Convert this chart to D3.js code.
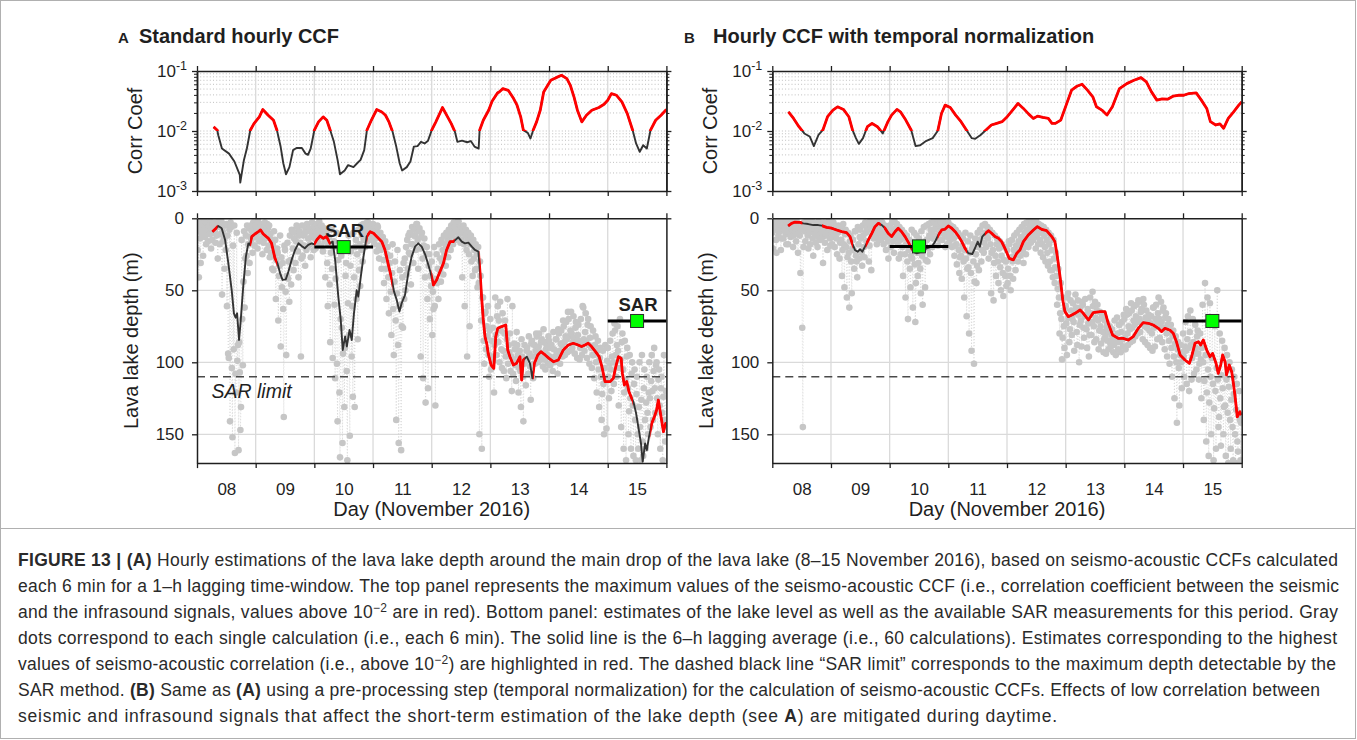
<!DOCTYPE html>
<html>
<head>
<meta charset="utf-8">
<script src="https://cdn.jsdelivr.net/npm/d3@7"></script>
<style>
  body { margin: 0; background: #fff; }
  svg { display: block; font-family: "Liberation Sans", Arial, Helvetica, sans-serif; }
</style>
</head>
<body>
<svg id="fig" width="1357" height="740"></svg>
<script>
// ---------------- data ----------------
// hours are counted from 8 November 2016, 00:00
const dayLabels = ["08", "09", "10", "11", "12", "13", "14", "15"];
const logTickValues = [1e-3, 1e-2, 1e-1];
const depthTickValues = [0, 50, 100, 150];
const ccfThreshold = 1e-2;
const sarLimit = 110;

// maximum seismo-acoustic CCF, standard hourly CCF  [hour, CCF]
const ccfA = [[6.8,0.0117],[8.3,0.0103],[8.7,0.0085],[10.2,0.0051],[13.1,0.0042],[15.3,0.0031],[17.5,0.00185],[17.7,0.00138],[19.2,0.0033],[20.4,0.0051],[21.8,0.0103],[23.3,0.0133],[25.5,0.0172],[26.9,0.0228],[29.1,0.0183],[31.3,0.0151],[32.7,0.0103],[34.2,0.0055],[35.3,0.0029],[36.4,0.0019],[37.8,0.0025],[39.3,0.0048],[40.7,0.0052],[42.9,0.0052],[44.4,0.0042],[45.4,0.0040],[46.5,0.0051],[48.0,0.0103],[49.7,0.0142],[51.6,0.0172],[53.1,0.0151],[54.5,0.0103],[56.0,0.0066],[57.5,0.0033],[58.5,0.0019],[60.4,0.0022],[61.8,0.0027],[64.0,0.0025],[65.5,0.0029],[66.9,0.0033],[68.4,0.0048],[69.5,0.0103],[71.3,0.0151],[73.5,0.0228],[75.6,0.0208],[77.1,0.0183],[78.5,0.0142],[80.0,0.0097],[81.5,0.0055],[82.9,0.0029],[83.9,0.0022],[85.8,0.0025],[87.3,0.0031],[88.7,0.0055],[90.2,0.0056],[91.6,0.0066],[93.1,0.0062],[94.5,0.0069],[96.0,0.0103],[97.7,0.0142],[100.4,0.0246],[102.5,0.0172],[104.0,0.0133],[105.5,0.0097],[106.5,0.0066],[108.4,0.0069],[110.5,0.0065],[112.0,0.0068],[113.5,0.0055],[115.2,0.0051],[115.6,0.0103],[117.1,0.0151],[119.3,0.0222],[120.7,0.0313],[122.9,0.0431],[123.6,0.0448],[125.1,0.0508],[127.3,0.0477],[129.5,0.0347],[130.9,0.0269],[132.4,0.0172],[133.5,0.0103],[135.3,0.0093],[136.4,0.0075],[137.5,0.0103],[138.9,0.0142],[140.4,0.0222],[141.8,0.0448],[144.7,0.070],[146.9,0.0775],[149.1,0.0848],[151.3,0.0746],[152.7,0.0578],[154.2,0.037],[155.6,0.0222],[157.4,0.0142],[159.3,0.0183],[161.5,0.0222],[164.4,0.0246],[166.5,0.0279],[168.0,0.0325],[169.5,0.042],[171.6,0.0394],[173.8,0.0305],[176.0,0.0195],[178.2,0.0103],[179.6,0.0062],[181.1,0.0045],[182.5,0.0058],[184.0,0.0051],[185.5,0.0103],[187.6,0.0151],[189.8,0.0183],[192.0,0.0228]];

// maximum seismo-acoustic CCF, hourly CCF with temporal normalization  [hour, CCF]
const ccfB = [[6.6,0.0209],[8.7,0.0162],[10.9,0.0118],[13.1,0.0091],[15.3,0.0081],[17.0,0.0056],[18.9,0.0086],[20.7,0.0104],[22.6,0.0173],[24.8,0.0223],[26.7,0.0253],[29.1,0.0229],[31.3,0.0173],[32.8,0.0104],[34.2,0.0076],[35.4,0.0061],[37.1,0.0076],[38.9,0.0118],[40.8,0.0134],[43.0,0.0118],[45.2,0.0091],[47.3,0.0143],[48.8,0.0184],[51.0,0.0229],[52.4,0.0209],[54.6,0.0152],[56.8,0.0104],[58.6,0.0056],[60.5,0.0058],[62.6,0.0067],[65.6,0.0076],[67.7,0.0101],[69.2,0.0196],[70.7,0.0270],[72.8,0.0247],[75.0,0.0184],[77.2,0.0143],[79.4,0.0104],[81.6,0.0076],[83.0,0.0074],[85.2,0.0086],[87.4,0.0104],[89.6,0.0126],[91.8,0.0134],[94.0,0.0143],[96.1,0.0173],[98.3,0.0223],[100.5,0.0288],[102.7,0.0238],[104.9,0.0191],[106.8,0.0162],[108.5,0.0177],[110.7,0.0168],[112.9,0.0162],[114.4,0.0134],[115.8,0.0134],[118.0,0.0152],[120.2,0.0270],[122.4,0.0479],[124.6,0.0557],[126.7,0.0601],[128.9,0.0479],[131.1,0.0371],[132.6,0.0253],[134.8,0.0223],[136.9,0.0184],[139.1,0.0253],[142.0,0.0509],[145.0,0.0616],[147.9,0.070],[150.8,0.0776],[153.0,0.0657],[155.1,0.0449],[157.3,0.0327],[159.5,0.0343],[161.7,0.0339],[163.9,0.0380],[166.1,0.0394],[168.3,0.0394],[170.4,0.0421],[173.4,0.0432],[175.5,0.0327],[177.7,0.0238],[179.2,0.0143],[181.4,0.0126],[183.1,0.0131],[184.6,0.0111],[186.5,0.0162],[188.7,0.0209],[190.8,0.0270],[192.0,0.0306]];

// 6-h lagging average of the lava lake depth (m)  [hour, depth]
const depthA = [[6.3,9.3],[7.8,6.9],[8.7,5.3],[10.1,6.9],[11.5,15],[12.8,31],[14.2,50],[15.1,66],[15.8,69],[16.4,66],[17.2,84.5],[17.9,70.6],[18.9,47.5],[20.0,26.6],[21.0,17.4],[21.6,18.5],[22.4,12.7],[23.7,10.9],[25.1,9.3],[26.0,8.1],[27.1,10.9],[29.2,13.9],[30.5,17.4],[31.9,27.8],[32.9,31.2],[34.0,38.2],[35.0,42.8],[36.3,42.4],[37.4,37],[38.7,28.9],[40.1,22],[41.5,17.4],[42.8,19.2],[44.1,20.8],[45.5,18.5],[46.9,17.4],[47.9,18.1],[49.0,15],[50.3,12.3],[51.7,13.9],[53.0,12.7],[54.4,17.4],[55.5,16.2],[56.5,28.9],[57.8,54.4],[58.8,70.6],[59.6,91.5],[60.6,82],[61.3,89],[62.4,77.5],[63.3,84.5],[64.2,66],[65.3,50],[66.0,54.4],[67.0,40.5],[68.1,26.6],[69.4,12.7],[70.8,9.3],[72.2,10.4],[73.5,12.7],[75.6,16.2],[76.9,22],[78.3,32.4],[79.6,41.7],[80.6,50.9],[81.7,56.7],[82.8,64.8],[83.7,59],[85.1,53.2],[86.5,37],[87.8,26.6],[89.2,19.7],[90.5,17.4],[91.9,19.7],[93.3,25],[94.4,31],[95.6,38],[96.7,46.3],[98.0,42.8],[99.4,37],[100.8,31.2],[102.1,22],[103.5,16.2],[104.9,16.2],[106.9,13.2],[108.3,16.2],[109.6,17.4],[111.0,16.9],[112.4,19.7],[113.7,22],[115.1,23.1],[115.8,38.2],[116.4,54.4],[117.1,70.6],[117.8,82.2],[118.5,86.8],[119.1,93.8],[120.3,101.9],[121.4,104.2],[122.2,82.2],[123.0,76.4],[124.6,75.2],[126.3,74.1],[127.1,91.5],[128.0,96.1],[129.4,101.9],[130.7,100.7],[132.1,96.1],[132.8,112.3],[133.5,98.4],[134.9,96.1],[136.2,100.7],[137.2,111.1],[138.0,100.7],[139.4,94.9],[140.7,92.6],[142.4,94.9],[144.0,97.3],[145.8,99.6],[147.8,98.4],[149.8,91.5],[151.9,88],[153.9,86.8],[155.9,88],[157.3,89.1],[158.7,88],[160.0,86.8],[161.4,89.1],[163.0,92.6],[164.5,96.1],[165.6,103],[166.9,113.4],[169.0,113.4],[170.3,111.1],[171.3,103],[172.4,96.1],[173.5,97.3],[174.0,107.7],[174.8,115.8],[175.8,113.4],[176.7,120.4],[177.8,125],[178.5,127.3],[179.6,135.4],[180.5,144.7],[181.6,156.3],[182.3,169],[183.3,156.3],[184.0,160.9],[184.9,151.6],[186.0,142.4],[187.1,137.8],[188.0,133.1],[188.7,126.2],[189.8,137.8],[190.8,148.2],[191.7,142.4],[192.0,144.7]];

const depthB = [[6.5,5.3],[7.9,3.5],[9.3,2.6],[11.3,2.8],[12.7,3.5],[14.7,4],[16.8,4.7],[18.8,4.7],[20.2,5.1],[22.2,6.3],[24.3,6.9],[26.3,8.1],[28.4,9.3],[30.4,10],[31.8,12.7],[32.7,17.4],[33.8,22],[34.9,23.2],[35.9,21.5],[36.8,23.2],[37.9,19.7],[39.3,15],[40.7,10.4],[42.0,5.8],[43.4,3.5],[44.7,4.6],[46.1,6.9],[47.4,10.4],[48.8,12.7],[50.2,9.3],[51.5,6.9],[52.9,9.3],[54.3,12.7],[55.9,17.4],[57.7,23.2],[59.1,24.3],[61.1,23.2],[63.2,20.8],[65.2,19.7],[66.6,16.2],[67.9,11.6],[69.3,8.1],[70.6,7.6],[72.0,5.3],[73.4,6.9],[74.8,9.3],[76.1,12.3],[77.5,16.2],[78.8,20.8],[80.2,24.3],[81.8,24.8],[82.9,20.8],[84.0,16.2],[84.9,19.7],[85.9,12.7],[87.2,10.4],[88.4,8.6],[89.7,10.4],[91.1,12.7],[92.5,13.9],[93.8,16.2],[95.2,21],[96.9,27.8],[98.6,28.9],[100.0,24.3],[101.3,22],[102.7,16.2],[104.7,11.6],[106.8,8.1],[108.4,5.8],[110.2,7.7],[112.2,8.6],[114.3,12.7],[115.6,16.2],[116.6,26.6],[117.7,40.5],[118.8,56.7],[119.7,64.8],[121.1,68.3],[122.5,67.2],[123.8,66],[125.9,63.7],[127.2,66],[129.3,70.6],[131.3,65.5],[134.1,64.8],[136.1,64.8],[137.4,72.9],[139.2,81],[141.5,83.4],[143.5,83.4],[145.6,84.5],[147.6,82.2],[149.7,76.4],[151.7,72.5],[153.8,72.9],[155.8,74.1],[157.9,76.4],[159.2,78.7],[160.6,76.4],[162.6,77.6],[164.0,79.9],[165.3,85.7],[166.8,94.9],[168.8,98.4],[170.6,100.7],[171.5,96.1],[172.9,86.8],[174.3,85.7],[175.2,88],[176.3,84.5],[177.7,91.5],[179.0,96.1],[180.1,93.8],[181.5,100.7],[182.4,107.7],[183.4,101.9],[184.2,94.9],[185.2,99.6],[185.8,108.8],[186.9,101.9],[187.9,106.5],[188.6,114.6],[189.3,123.9],[190.2,137.8],[191.3,134.3],[192.0,136.6]];

// single depth estimates (m), four per hour (every 15 min), one array per day
const dotsA08 = [3,22,9,41, 6,14,31,2, 11,4,26,8, 2,13,7,18, 9,3,16,5, 4,11,2,21, 7,15,4,10, 3,9,17,6, 12,5,28,2, 6,18,3,11, 2,53,9,16, 14,35,5,22, 4,61,12,94, 97,8,141,3, 6,104,152,19, 91,5,163,108, 121,10,99,88, 161,86,107,147, 131,15,70,102, 44,9,62,28, 12,26,5,38, 18,7,31,13, 5,15,9,24, 3,10,19,7];
const dotsA09 = [5,13,8,21, 2,10,16,6, 9,4,14,25, 6,17,11,3, 14,8,22,4, 7,19,5,27, 11,24,15,35, 18,36,9,26, 15,56,29,21, 24,71,40,33, 12,89,27,48, 31,63,138,19, 22,51,95,40, 17,42,30,58, 12,29,46,8, 9,21,36,14, 10,31,16,5, 6,23,41,12, 9,17,96,28, 5,26,12,19, 11,33,8,22, 4,20,14,9, 7,18,27,13, 3,12,9,22];
const dotsA10 = [6,14,21,10, 4,11,17,7, 2,8,13,19, 5,12,23,9, 7,16,41,11, 9,31,61,18, 13,46,86,24, 8,35,97,20, 16,60,111,42, 10,101,141,29, 21,121,166,70, 26,76,156,94, 18,131,90,40, 31,106,168,59, 12,81,151,33, 23,96,61,124, 10,41,131,20, 15,56,25,84, 8,36,18,47, 5,22,12,30, 4,15,9,20, 6,12,3,16, 3,9,14,7, 5,11,7,15];
const dotsA11 = [4,10,18,8, 8,14,23,5, 6,19,28,12, 10,22,35,15, 13,29,45,20, 16,35,56,25, 20,41,66,31, 26,51,81,38, 18,63,95,44, 30,71,140,52, 22,88,156,61, 36,60,161,75, 41,76,31,56, 28,50,20,39, 15,35,12,24, 10,25,46,18, 6,18,31,12, 8,12,22,4, 4,15,35,9, 7,21,96,13, 10,28,111,19, 14,41,128,25, 20,56,118,33, 25,70,40,47];
const dotsA12 = [30,81,51,63, 20,61,130,42, 25,45,35,56, 18,36,28,44, 15,30,22,39, 12,25,18,33, 10,20,14,27, 8,16,12,22, 5,12,9,18, 3,10,6,15, 4,8,14,2, 2,11,7,17, 6,15,41,10, 5,18,61,12, 8,22,96,15, 10,25,75,18, 12,30,18,40, 15,28,22,36, 18,35,25,48, 20,45,150,30, 40,71,160,55, 55,85,101,66, 65,91,75,82, 61,95,110,78];
const dotsA13 = [70,105,85,96, 76,99,121,88, 55,81,95,68, 61,86,71,100, 58,78,91,104, 66,92,106,80, 71,96,111,84, 56,101,88,93, 80,106,96,120, 61,108,98,87, 91,102,113,79, 88,95,121,104, 92,106,131,84, 96,110,141,101, 88,100,116,92, 90,98,108,82, 94,103,126,87, 85,96,111,101, 88,101,92,80, 82,94,100,89, 80,93,98,86, 84,96,103,77, 86,98,105,91, 88,95,101,82];
const dotsA14 = [85,96,102,90, 88,98,106,79, 91,100,96,84, 84,94,108,77, 80,92,101,87, 78,88,96,71, 75,86,95,82, 72,84,93,65, 70,82,92,78, 65,80,90,86, 68,83,94,76, 72,86,97,81, 74,85,98,90, 70,88,95,61, 62,84,92,79, 66,86,97,74, 70,88,101,83, 75,90,104,95, 78,95,111,88, 82,100,121,92, 85,105,131,97, 90,110,140,122, 92,115,150,104, 88,112,146,99];
const dotsA15 = [90,110,125,101, 85,105,120,96, 80,100,115,73, 78,95,110,88, 75,92,130,104, 70,98,145,86, 80,105,160,121, 85,112,168,96, 90,118,150,134, 95,125,160,108, 100,130,165,115, 105,140,168,122, 110,150,160,131, 100,145,168,126, 95,155,165,118, 105,140,160,128, 110,135,150,121, 100,125,145,113, 95,120,140,106, 90,118,135,102, 100,125,150,112, 105,130,160,118, 110,135,168,124, 95,140,155,120];

const dotsB08 = [10,21,4,7, 3,8,15,24, 2,6,12,9, 4,9,22,14, 1,5,14,8, 3,7,11,18, 2,9,18,5, 4,6,13,10, 1,8,20,12, 3,5,10,16, 2,7,24,11, 4,12,38,8, 5,76,145,20, 3,9,16,6, 2,6,12,21, 4,10,18,7, 1,7,14,26, 3,8,11,17, 5,9,20,13, 2,6,15,10, 4,10,13,31, 3,8,17,12, 5,11,22,7, 2,9,14,19];
const dotsB09 = [4,10,18,13, 3,12,20,7, 6,14,25,10, 5,9,28,17, 7,15,40,22, 4,18,48,11, 8,20,55,27, 10,24,62,16, 12,30,52,21, 15,22,35,9, 9,26,30,41, 6,18,28,13, 8,14,24,33, 5,12,20,27, 3,10,16,8, 4,8,30,19, 2,6,36,12, 3,9,14,5, 1,5,12,18, 2,7,10,15, 4,8,15,11, 3,11,18,6, 5,13,22,9, 6,16,28,11];
const dotsB10 = [5,12,20,9, 3,9,16,24, 2,7,14,11, 4,10,18,28, 6,15,25,11, 8,20,40,14, 10,25,55,18, 12,30,70,22, 15,35,48,26, 8,28,62,19, 10,32,72,45, 12,24,40,31, 14,20,35,52, 9,26,60,17, 6,18,48,29, 5,15,30,21, 4,12,25,8, 3,10,20,14, 2,8,14,5, 4,6,12,19, 1,5,10,15, 3,7,15,10, 2,6,12,20, 4,9,18,13];
const dotsB11 = [3,8,16,11, 5,10,20,14, 6,14,26,19, 8,18,32,12, 10,22,38,27, 12,26,42,19, 14,30,55,22, 10,28,68,35, 16,34,80,24, 12,38,92,21, 18,30,101,44, 14,25,45,33, 10,20,36,15, 8,16,30,22, 5,12,24,17, 4,10,20,13, 6,14,28,9, 8,18,52,24, 10,22,57,31, 12,26,40,18, 14,30,45,21, 16,34,50,26, 18,38,54,29, 20,40,30,47];
const dotsB12 = [22,45,35,16, 18,40,50,27, 15,30,42,22, 12,26,36,19, 10,22,30,16, 8,18,26,13, 6,14,22,31, 4,10,18,25, 3,8,14,20, 2,6,12,17, 1,5,10,15, 3,7,13,21, 2,6,11,18, 4,9,15,24, 5,10,18,27, 6,12,20,30, 8,15,24,33, 10,18,30,36, 12,22,36,41, 15,28,45,34, 24,40,60,49, 35,55,80,66, 45,70,98,83, 55,75,90,63];
const dotsB13 = [61,73,95,55, 52,69,86,77, 57,64,81,70, 59,72,92,66, 53,62,79,88, 57,67,100,74, 62,71,89,58, 60,76,83,68, 56,67,77,90, 63,73,96,81, 55,66,81,72, 51,61,75,86, 58,69,84,64, 60,71,91,78, 65,75,87,69, 67,79,93,84, 71,82,94,76, 73,85,91,79, 75,87,89,81, 77,84,93,88, 71,82,95,86, 69,80,91,74, 74,86,93,79, 72,84,89,67];
const dotsB14 = [70,83,91,63, 67,80,88,75, 66,77,86,59, 64,76,85,71, 61,74,82,68, 60,72,80,57, 58,70,79,65, 63,73,84,56, 60,75,86,69, 64,76,88,71, 67,78,90,73, 68,80,92,62, 62,76,89,70, 60,74,84,66, 55,70,83,76, 58,72,86,64, 62,76,91,69, 66,80,96,74, 70,85,101,79, 74,90,110,82, 78,96,125,87, 82,100,142,91, 86,104,130,95, 88,100,118,93];
const dotsB15 = [80,96,110,89, 72,92,115,84, 68,90,120,79, 64,88,112,97, 70,86,108,94, 74,90,105,82, 78,94,112,101, 80,98,125,90, 60,100,140,113, 45,95,155,121, 55,105,165,128, 59,110,150,97, 70,115,168,132, 75,120,160,104, 50,112,145,138, 80,125,158,109, 85,118,150,131, 90,130,165,112, 95,135,170,117, 100,140,160,126, 105,145,168,122, 110,150,170,133, 115,155,162,137, 120,140,168,142];

// SAR measurements: [start hour, end hour, marker hour, depth (m)]
const sarA = [[48, 72, 60, 20], [168, 192, 180, 71.3]];
const sarB = [[48, 72, 60, 19.5], [168, 192, 180, 71.3]];

// ---------------- drawing ----------------
const svg = d3.select("#fig");
const INK = "#1f1f1f";
const RED = "#ff0000";
const GRID = "#dadada";
const DOT = "#c6c6c6";

// frame of the figure and the caption box
svg.append("rect").attr("x", 0.5).attr("y", 0.5).attr("width", 1355).attr("height", 738)
  .attr("fill", "none").attr("stroke", "#b0b0b0");
svg.append("line").attr("x1", 0).attr("x2", 1356).attr("y1", 528.5).attr("y2", 528.5)
  .attr("stroke", "#b0b0b0");

// time spans where the CCF is at or above the threshold (crossings taken in log space)
function redSpans(series, thr) {
  const spans = [];
  let start = series[0][1] >= thr ? 0 : null;
  for (let i = 1; i < series.length; i++) {
    const [h0, v0] = series[i - 1], [h1, v1] = series[i];
    const a = v0 >= thr, b = v1 >= thr;
    if (a !== b) {
      const t = (Math.log(thr) - Math.log(v0)) / (Math.log(v1) - Math.log(v0));
      const hc = h0 + t * (h1 - h0);
      if (b) start = hc; else { spans.push([start, hc]); start = null; }
    }
  }
  if (start !== null) spans.push([start, 192]);
  return spans;
}

function styleAxis(sel, width) {
  sel.select(".domain").attr("stroke", INK).attr("stroke-width", 1.5);
  sel.selectAll(".tick line").attr("stroke", INK).attr("stroke-width", width || 1.3);
  sel.selectAll("text").remove();
}

function drawPanel(o) {
  const x = d3.scaleLinear().domain([0, 192]).range([o.left, o.right]);
  const yT = d3.scaleLog().domain([1e-3, 1e-1]).range([191, 71]);
  const yB = d3.scaleLinear().domain([0, 170]).range([218.3, 463.1]);
  const dayTicks = d3.range(0, 193, 24);
  const midTicks = d3.range(12, 192, 24);
  const g = svg.append("g");
  const defs = svg.append("defs");

  // ---------- title ----------
  g.append("text").attr("x", o.letterX).attr("y", 43).attr("font-size", 15)
    .attr("font-weight", "bold").attr("fill", INK).text(o.letter);
  g.append("text").attr("x", o.titleX).attr("y", 43).attr("font-size", 20)
    .attr("font-weight", "bold").attr("fill", INK).text(o.title);

  // ---------- top panel: correlation coefficient ----------
  const minorVals = [];
  for (const e of [-3, -2]) for (let k = 2; k <= 9; k++) minorVals.push(k * Math.pow(10, e));
  g.append("g").selectAll("line").data(minorVals.concat([1e-2])).join("line")
    .attr("x1", o.left).attr("x2", o.right)
    .attr("y1", d => yT(d)).attr("y2", d => yT(d))
    .attr("stroke", "#b8b8b8").attr("stroke-width", 0.9).attr("stroke-dasharray", "1,2.2");
  g.append("g").selectAll("line").data(dayTicks.slice(1, -1)).join("line")
    .attr("x1", d => x(d)).attr("x2", d => x(d)).attr("y1", 71).attr("y2", 191)
    .attr("stroke", GRID).attr("stroke-width", 1.3);

  const clipTopId = o.id + "-clip-top-red";
  defs.append("clipPath").attr("id", clipTopId).append("rect")
    .attr("x", o.left - 5).attr("y", 60).attr("width", o.right - o.left + 10)
    .attr("height", yT(ccfThreshold) - 60);
  const lineT = d3.line().x(d => x(d[0])).y(d => yT(d[1]));
  g.append("path").datum(o.ccf).attr("d", lineT).attr("fill", "none")
    .attr("stroke", "#333").attr("stroke-width", 1.9).attr("stroke-linejoin", "round");
  g.append("path").datum(o.ccf).attr("d", lineT).attr("fill", "none")
    .attr("clip-path", `url(#${clipTopId})`)
    .attr("stroke", RED).attr("stroke-width", 2.8).attr("stroke-linejoin", "round");

  // axes of the top panel (ticks outward on all sides)
  const axT = g.append("g");
  axT.append("g").attr("transform", `translate(0,191)`)
    .call(d3.axisBottom(x).tickValues(dayTicks).tickSize(5).tickSizeOuter(0)).call(styleAxis);
  axT.append("g").attr("transform", `translate(0,71)`)
    .call(d3.axisTop(x).tickValues(dayTicks).tickSize(5).tickSizeOuter(0)).call(styleAxis);
  axT.append("g").attr("transform", `translate(${o.left},0)`)
    .call(d3.axisLeft(yT).tickValues(logTickValues).tickSize(5).tickSizeOuter(0)).call(styleAxis);
  axT.append("g").attr("transform", `translate(${o.left},0)`)
    .call(d3.axisLeft(yT).tickValues(minorVals).tickSize(3).tickSizeOuter(0)).call(styleAxis, 1);
  axT.append("g").attr("transform", `translate(${o.right},0)`)
    .call(d3.axisRight(yT).tickValues(logTickValues).tickSize(5).tickSizeOuter(0)).call(styleAxis);
  axT.append("g").attr("transform", `translate(${o.right},0)`)
    .call(d3.axisRight(yT).tickValues(minorVals).tickSize(3).tickSizeOuter(0)).call(styleAxis, 1);

  // log labels 10^-n
  const lbl = g.append("g").attr("fill", INK).attr("text-anchor", "end");
  logTickValues.forEach(v => {
    const t = lbl.append("text").attr("x", o.left - 10).attr("y", yT(v) + 6).attr("font-size", 17);
    t.append("tspan").text("10");
    t.append("tspan").attr("dy", -7).attr("font-size", 12.5).text(String(Math.round(Math.log10(v))));
  });
  g.append("text").attr("transform", `translate(${o.left - 55},131) rotate(-90)`)
    .attr("text-anchor", "middle").attr("font-size", 20).attr("fill", INK).text("Corr Coef");

  // ---------- bottom panel: lava lake depth ----------
  g.append("g").selectAll("line").data([50, 100, 150]).join("line")
    .attr("x1", o.left).attr("x2", o.right).attr("y1", d => yB(d)).attr("y2", d => yB(d))
    .attr("stroke", GRID).attr("stroke-width", 1.3);
  g.append("g").selectAll("line").data(dayTicks.slice(1, -1)).join("line")
    .attr("x1", d => x(d)).attr("x2", d => x(d)).attr("y1", yB(0)).attr("y2", yB(170))
    .attr("stroke", GRID).attr("stroke-width", 1.3);

  const clipPlotId = o.id + "-clip-plot";
  defs.append("clipPath").attr("id", clipPlotId).append("rect")
    .attr("x", o.left).attr("y", yB(0)).attr("width", o.right - o.left).attr("height", yB(170) - yB(0));

  // single estimates
  const dots = [];
  o.dotDays.forEach((arr, di) => arr.forEach((v, j) => dots.push([di * 24 + j / 4, v])));
  const dotLayer = g.append("g").attr("clip-path", `url(#${clipPlotId})`);
  dotLayer.append("path").datum(dots)
    .attr("d", d3.line().x(d => x(d[0])).y(d => yB(d[1])))
    .attr("fill", "none").attr("stroke", "#d2d2d2").attr("stroke-width", 0.8)
    .attr("stroke-dasharray", "1,2");
  dotLayer.selectAll("circle").data(dots).join("circle")
    .attr("cx", d => x(d[0])).attr("cy", d => yB(d[1])).attr("r", 3.3).attr("fill", DOT);

  // SAR detection limit
  g.append("line").attr("x1", o.left).attr("x2", o.right)
    .attr("y1", yB(sarLimit)).attr("y2", yB(sarLimit))
    .attr("stroke", "#4a4a4a").attr("stroke-width", 1.4).attr("stroke-dasharray", "8,5");
  if (o.limitLabel) {
    g.append("text").attr("x", o.left + 14.5).attr("y", 398).attr("font-size", 19.5)
      .attr("font-style", "italic").attr("fill", INK).text("SAR limit");
  }

  // 6-h lagging average; red where the correlation is at or above 1e-2
  const clipRedId = o.id + "-clip-bottom-red";
  defs.append("clipPath").attr("id", clipRedId).selectAll("rect")
    .data(redSpans(o.ccf, ccfThreshold)).join("rect")
    .attr("x", d => x(d[0])).attr("width", d => x(d[1]) - x(d[0]))
    .attr("y", yB(0)).attr("height", yB(170) - yB(0));
  const lineB = d3.line().x(d => x(d[0])).y(d => yB(d[1]));
  const lineLayer = g.append("g").attr("clip-path", `url(#${clipPlotId})`);
  lineLayer.append("path").datum(o.depth).attr("d", lineB).attr("fill", "none")
    .attr("stroke", "#333").attr("stroke-width", 1.9).attr("stroke-linejoin", "round");
  lineLayer.append("g").attr("clip-path", `url(#${clipRedId})`)
    .append("path").datum(o.depth).attr("d", lineB).attr("fill", "none")
    .attr("stroke", RED).attr("stroke-width", 2.8).attr("stroke-linejoin", "round");

  // SAR measurements
  o.sar.forEach(s => {
    g.append("line").attr("x1", x(s[0])).attr("x2", x(s[1]))
      .attr("y1", yB(s[3])).attr("y2", yB(s[3])).attr("stroke", "#000").attr("stroke-width", 3);
    g.append("rect").attr("x", x(s[2]) - 6.5).attr("y", yB(s[3]) - 6.5)
      .attr("width", 13).attr("height", 13).attr("fill", "#00ff00")
      .attr("stroke", "#2a2a2a").attr("stroke-width", 1);
    if (o.sarLabel) {
      g.append("text").attr("x", x(s[2]) + 1).attr("y", yB(s[3]) - 10)
        .attr("text-anchor", "middle").attr("font-size", 18.5).attr("font-weight", "bold")
        .attr("fill", INK).text("SAR");
    }
  });

  // axes of the bottom panel
  const axB = g.append("g");
  axB.append("g").attr("transform", `translate(0,${yB(170)})`)
    .call(d3.axisBottom(x).tickValues(dayTicks).tickSize(5).tickSizeOuter(0)).call(styleAxis);
  axB.append("g").attr("transform", `translate(0,${yB(0)})`)
    .call(d3.axisTop(x).tickValues(dayTicks).tickSize(5).tickSizeOuter(0)).call(styleAxis);
  axB.append("g").attr("transform", `translate(${o.right},0)`)
    .call(d3.axisRight(yB).tickValues(depthTickValues).tickSize(5).tickSizeOuter(0)).call(styleAxis);
  const yAxis = axB.append("g").attr("transform", `translate(${o.left},0)`)
    .call(d3.axisLeft(yB).tickValues(depthTickValues).tickSize(5).tickSizeOuter(0).tickPadding(8));
  yAxis.select(".domain").attr("stroke", INK).attr("stroke-width", 1.5);
  yAxis.selectAll(".tick line").attr("stroke", INK).attr("stroke-width", 1.3);
  yAxis.attr("font-family", null);
  yAxis.selectAll("text").attr("font-size", 17).attr("fill", INK);

  const dayAxis = axB.append("g").attr("transform", `translate(0,${yB(170)})`)
    .call(d3.axisBottom(x).tickValues(midTicks).tickSize(0).tickPadding(20)
      .tickFormat((d, i) => dayLabels[i]));
  dayAxis.select(".domain").remove();
  dayAxis.attr("font-family", null);
  dayAxis.selectAll("text").attr("font-size", 17).attr("fill", INK);

  g.append("text").attr("x", (o.left + o.right) / 2).attr("y", 516)
    .attr("text-anchor", "middle").attr("font-size", 20).attr("fill", INK)
    .text("Day (November 2016)");
  g.append("text").attr("transform", `translate(${o.left - 59},${(yB(0) + yB(170)) / 2}) rotate(-90)`)
    .attr("text-anchor", "middle").attr("font-size", 20).attr("fill", INK)
    .text("Lava lake depth (m)");
}

drawPanel({
  id: "pa", left: 197, right: 666.4, letter: "A", letterX: 118, titleX: 139,
  title: "Standard hourly CCF", ccf: ccfA, depth: depthA, sar: sarA,
  dotDays: [dotsA08, dotsA09, dotsA10, dotsA11, dotsA12, dotsA13, dotsA14, dotsA15],
  sarLabel: true, limitLabel: true
});
drawPanel({
  id: "pb", left: 772.3, right: 1241.7, letter: "B", letterX: 684, titleX: 713,
  title: "Hourly CCF with temporal normalization", ccf: ccfB, depth: depthB, sar: sarB,
  dotDays: [dotsB08, dotsB09, dotsB10, dotsB11, dotsB12, dotsB13, dotsB14, dotsB15],
  sarLabel: false, limitLabel: false
});

// ---------------- caption ----------------
const captionLines = [
  [["FIGURE 13 | (A)", "b"], [" Hourly estimations of the lava lake depth around the main drop of the lava lake (8–15 November 2016), based on seismo-acoustic CCFs calculated"]],
  [["each 6 min for a 1–h lagging time-window. The top panel represents the maximum values of the seismo-acoustic CCF (i.e., correlation coefficient between the seismic"]],
  [["and the infrasound signals, values above 10"], ["−2", "sup"], [" are in red). Bottom panel: estimates of the lake level as well as the available SAR measurements for this period. Gray"]],
  [["dots correspond to each single calculation (i.e., each 6 min). The solid line is the 6–h lagging average (i.e., 60 calculations). Estimates corresponding to the highest"]],
  [["values of seismo-acoustic correlation (i.e., above 10"], ["−2", "sup"], [") are highlighted in red. The dashed black line “SAR limit” corresponds to the maximum depth detectable by the"]],
  [["SAR method. "], ["(B)", "b"], [" Same as "], ["(A)", "b"], [" using a pre-processing step (temporal normalization) for the calculation of seismo-acoustic CCFs. Effects of low correlation between"]],
  [["seismic and infrasound signals that affect the short-term estimation of the lake depth (see "], ["A", "b"], [") are mitigated during daytime."]]
];
const captionWidths = [1320, 1321, 1320, 1319, 1318, 1302, 1039];
const cap = svg.append("g").attr("fill", "#2a2a2a");
captionLines.forEach((segs, i) => {
  const t = cap.append("text").attr("x", 18).attr("y", 566 + i * 26).attr("font-size", 17.5)
    .attr("textLength", captionWidths[i]).attr("lengthAdjust", "spacing");
  let raised = false;
  segs.forEach(([s, kind]) => {
    const sp = t.append("tspan").text(s);
    if (kind === "b") sp.attr("font-weight", "bold");
    if (kind === "sup") { sp.attr("dy", -6).attr("font-size", 12); raised = true; }
    else if (raised) { sp.attr("dy", 6); raised = false; }
  });
});
</script>
</body>
</html>
